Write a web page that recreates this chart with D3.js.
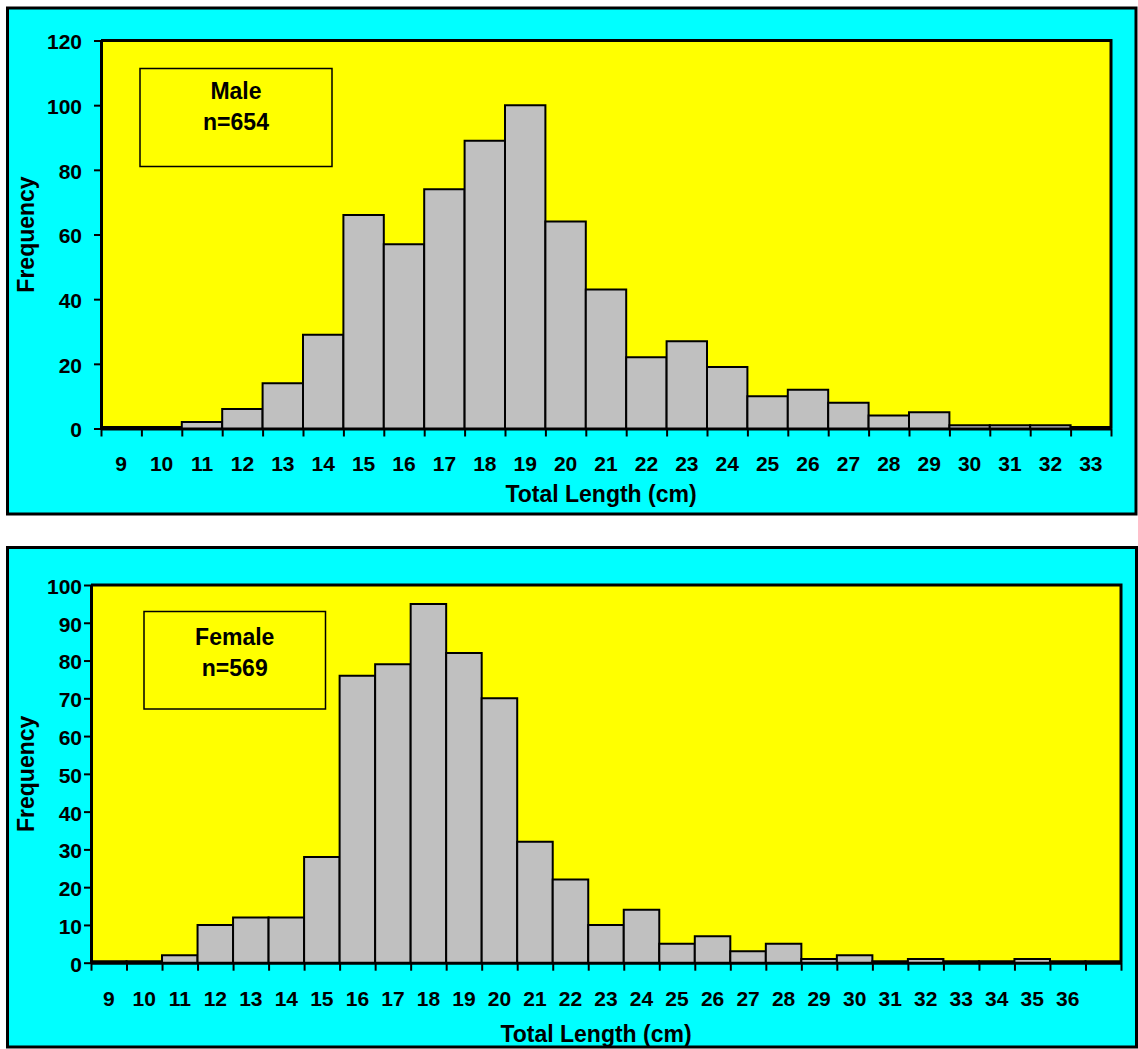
<!DOCTYPE html>
<html>
<head>
<meta charset="utf-8">
<script src="https://cdn.jsdelivr.net/npm/d3@7"></script>
<style>
  html, body { margin: 0; padding: 0; background: #ffffff; }
  svg { display: block; }
  text { font-family: "Liberation Sans", Arial, sans-serif; font-weight: bold; fill: #000; }
</style>
</head>
<body>
<svg id="chart" width="1138" height="1049"></svg>
<script>
// ---------- DATA ----------
const maleCategories = ["9","10","11","12","13","14","15","16","17","18","19","20","21","22","23","24","25","26","27","28","29","30","31","32","33"];
const maleCounts     = [0, 0, 2, 6, 14, 29, 66, 57, 74, 89, 100, 64, 43, 22, 27, 19, 10, 12, 8, 4, 5, 1, 1, 1, 0];
const maleYTicks     = [0, 20, 40, 60, 80, 100, 120];
const maleLegend     = ["Male", "n=654"];

const femaleCategories = ["9","10","11","12","13","14","15","16","17","18","19","20","21","22","23","24","25","26","27","28","29","30","31","32","33","34","35","36",""];
const femaleCounts     = [0, 0, 2, 10, 12, 12, 28, 76, 79, 95, 82, 70, 32, 22, 10, 14, 5, 7, 3, 5, 1, 2, 0, 1, 0, 0, 1, 0, 0];
const femaleYTicks     = [0, 10, 20, 30, 40, 50, 60, 70, 80, 90, 100];
const femaleLegend     = ["Female", "n=569"];

const xTitle = "Total Length (cm)";
const yTitle = "Frequency";

// ---------- DRAW ----------
const svg = d3.select("#chart");

function drawChart(cfg) {
  const g = svg.append("g");
  const o = cfg.outer, p = cfg.plot;

  // outer cyan frame
  g.append("rect")
    .attr("x", o.x0).attr("y", o.y0)
    .attr("width", o.x1 - o.x0).attr("height", o.y1 - o.y0)
    .attr("fill", "#00FFFF").attr("stroke", "#000").attr("stroke-width", 3);

  const x = d3.scaleBand().domain(cfg.cats).range([p.x0, p.x1]).paddingInner(0).paddingOuter(0);
  const y = d3.scaleLinear().domain([0, cfg.yMax]).range([p.y1, p.y0]);
  const xb = d3.scaleLinear().domain([0, cfg.cats.length]).range([p.x0, p.x1]);

  // plot background
  g.append("rect")
    .attr("x", p.x0).attr("y", p.y0)
    .attr("width", p.x1 - p.x0).attr("height", p.y1 - p.y0)
    .attr("fill", "#FFFF00");

  // bars (paths so zero-height bars still show their outline)
  const data = cfg.cats.map((c, i) => ({ c, v: cfg.counts[i] }));
  g.append("g").selectAll("path").data(data).join("path")
    .attr("d", d => {
      const x0 = x(d.c), x1 = x(d.c) + x.bandwidth();
      const yb = y(0), yt = y(d.v) - (d.v === 0 ? 1.5 : 0);
      return `M${x0},${yb}L${x0},${yt}L${x1},${yt}L${x1},${yb}`;
    })
    .attr("fill", "#C0C0C0")
    .attr("stroke", "#000")
    .attr("stroke-width", 2)
    .attr("stroke-linejoin", "miter");

  // plot border (top and right)
  g.append("path")
    .attr("d", `M${p.x0},${p.y0}L${p.x1},${p.y0}L${p.x1},${p.y1}`)
    .attr("fill", "none").attr("stroke", "#000").attr("stroke-width", 3);

  // y axis
  const ya = g.append("g").attr("transform", `translate(${p.x0},0)`)
    .call(d3.axisLeft(y).tickValues(cfg.yTicks).tickSize(7).tickPadding(cfg.yPad).tickSizeOuter(0));
  ya.select(".domain").attr("stroke-width", 3);
  ya.selectAll(".tick line").attr("stroke-width", 2);
  ya.selectAll("text").attr("font-size", 21).attr("dy", "0.40em")
    .style("font-family", "'Liberation Sans', Arial, sans-serif").style("font-weight", "bold");

  // x axis: boundary ticks
  const xt = g.append("g").attr("transform", `translate(0,${p.y1})`)
    .call(d3.axisBottom(xb).tickValues(d3.range(cfg.cats.length + 1)).tickFormat("").tickSize(8).tickSizeOuter(0));
  xt.select(".domain").attr("stroke-width", 3);
  xt.selectAll(".tick line").attr("stroke-width", 2);

  // x axis: category labels centred in bins
  const xl = g.append("g").attr("transform", `translate(0,${p.y1})`)
    .call(d3.axisBottom(x).tickSize(0).tickPadding(28));
  xl.select(".domain").remove();
  xl.selectAll("text").attr("font-size", 21)
    .style("font-family", "'Liberation Sans', Arial, sans-serif").style("font-weight", "bold");

  // legend box
  const L = cfg.legend;
  g.append("rect")
    .attr("x", L.x0).attr("y", L.y0).attr("width", L.x1 - L.x0).attr("height", L.y1 - L.y0)
    .attr("fill", "#FFFF00").attr("stroke", "#000").attr("stroke-width", 1.5);
  cfg.legendText.forEach((t, i) => {
    g.append("text").attr("x", (L.x0 + L.x1) / 2).attr("y", L.base[i])
      .attr("text-anchor", "middle").attr("font-size", 23).text(t);
  });

  // axis titles
  g.append("text").attr("x", cfg.xTitlePos[0]).attr("y", cfg.xTitlePos[1])
    .attr("text-anchor", "middle").attr("font-size", 23).text(xTitle);
  g.append("text")
    .attr("transform", `translate(${cfg.yTitleX},${(p.y0 + p.y1) / 2}) rotate(-90)`)
    .attr("text-anchor", "middle").attr("font-size", 23).text(yTitle);
}

drawChart({
  cats: maleCategories, counts: maleCounts, yMax: 120, yTicks: maleYTicks,
  outer: { x0: 7.5, y0: 8, x1: 1136, y1: 514 },
  plot: { x0: 101, y0: 40.5, x1: 1111, y1: 428.5 },
  yPad: 12,
  legend: { x0: 140, y0: 68.5, x1: 332, y1: 166.5, base: [99, 130] },
  legendText: maleLegend,
  xTitlePos: [601, 501.5],
  yTitleX: 34
});

drawChart({
  cats: femaleCategories, counts: femaleCounts, yMax: 100, yTicks: femaleYTicks,
  outer: { x0: 7.5, y0: 547.5, x1: 1136.5, y1: 1047 },
  plot: { x0: 91, y0: 585, x1: 1121, y1: 962.7 },
  yPad: 2,
  legend: { x0: 144, y0: 611.5, x1: 325.5, y1: 709, base: [644.5, 675.5] },
  legendText: femaleLegend,
  xTitlePos: [596, 1041.5],
  yTitleX: 34
});
</script>
</body>
</html>
